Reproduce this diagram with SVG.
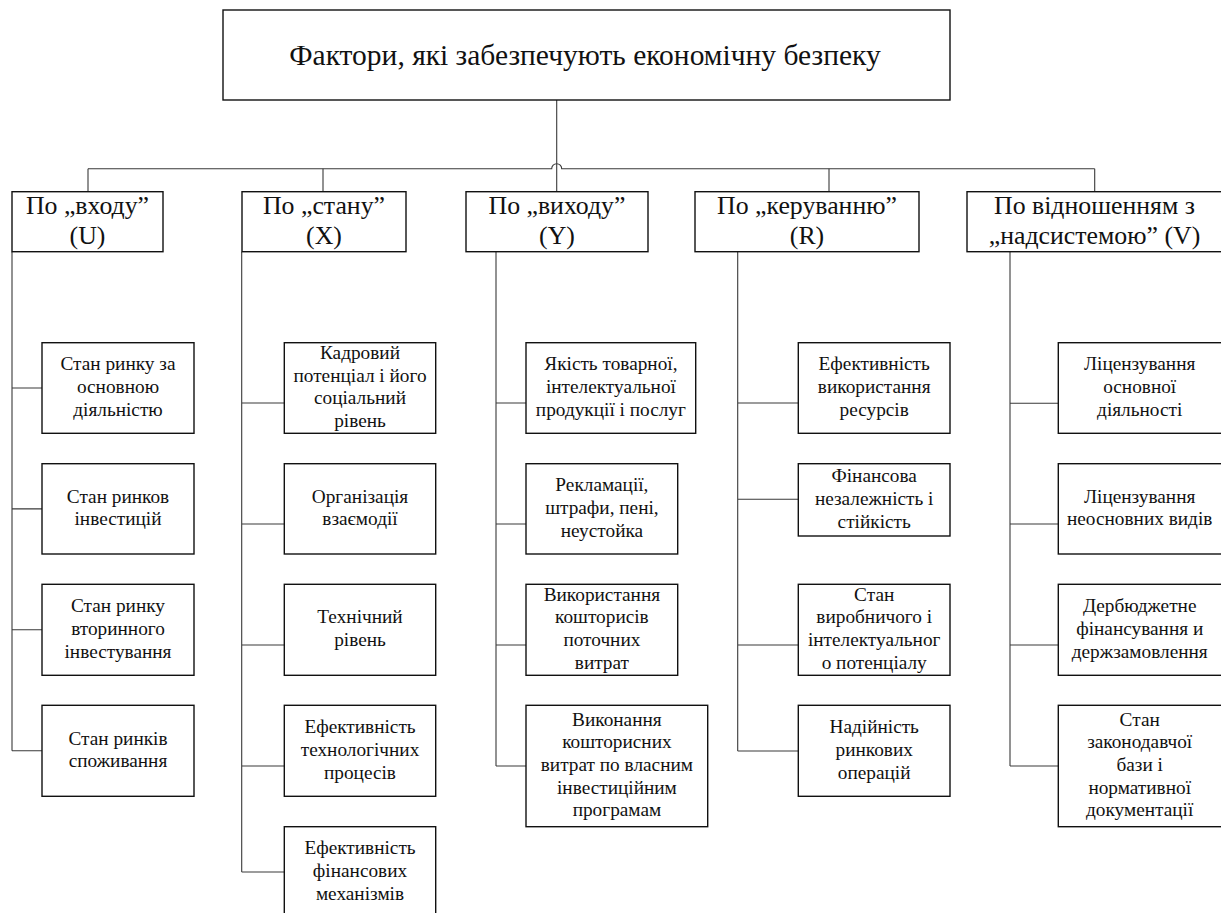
<svg xmlns="http://www.w3.org/2000/svg" width="1221" height="913" viewBox="0 0 1221 913">
<style>
  .box { fill: #ffffff; stroke: #111111; stroke-width: 1.4; }
  .wire { fill: none; stroke: #3a3a3a; stroke-width: 1.1; }
  text { font-family: "Liberation Serif", "Times New Roman", serif; fill: #111111; text-anchor: middle; }
  .title { font-size: 29.5px; }
  .hdr { font-size: 25.8px; }
  .t { font-size: 19.3px; }
</style>
<rect x="0" y="0" width="1221" height="913" fill="#ffffff"/>

<g id="connectors">
  <path class="wire" d="M556.7,100 V191.7"/>
  <path class="wire" d="M88,168.7 H551.7 A5,5 0 0 1 561.7,168.7 H1094.7"/>
  <path class="wire" d="M88,168.7 V191.7 M323,168.7 V191.7 M829,168.7 V191.7 M1094.7,168.7 V191.7"/>
  <path class="wire" d="M12,251.7 V750.8 M12,388 H42 M12,508.85 H42 M12,629.8 H42 M12,750.8 H42"/>
  <path class="wire" d="M241.7,251.7 V872 M241.7,403 H284.3 M241.7,524 H284.3 M241.7,645 H284.3 M241.7,766 H284.3 M241.7,872 H284.3"/>
  <path class="wire" d="M496,251.7 V766 M496,403 H526 M496,524 H526 M496,645 H526 M496,766 H526"/>
  <path class="wire" d="M737.7,251.7 V751 M737.7,403 H798.3 M737.7,499.3 H798.3 M737.7,645 H798.3 M737.7,751 H798.3"/>
  <path class="wire" d="M1010,251.7 V766 M1010,403.3 H1058.3 M1010,524 H1058.3 M1010,645 H1058.3 M1010,766 H1058.3"/>
</g>

<g id="root">
  <rect class="box" x="223" y="10" width="727" height="90"/>
  <text class="title" x="585" y="64.5">Фактори, які забезпечують економічну безпеку</text>
</g>

<g id="hdr-u">
  <rect class="box" x="12" y="191.7" width="151" height="60"/>
  <text class="hdr" x="87.5" y="214">По „входу”</text>
  <text class="hdr" x="87.5" y="244">(U)</text>
</g>
<g id="hdr-x">
  <rect class="box" x="242" y="191.7" width="164" height="60"/>
  <text class="hdr" x="324" y="214">По „стану”</text>
  <text class="hdr" x="324" y="244">(X)</text>
</g>
<g id="hdr-y">
  <rect class="box" x="466" y="191.7" width="182" height="60"/>
  <text class="hdr" x="557" y="214">По „виходу”</text>
  <text class="hdr" x="557" y="244">(Y)</text>
</g>
<g id="hdr-r">
  <rect class="box" x="695" y="191.7" width="224" height="60"/>
  <text class="hdr" x="807" y="214">По „керуванню”</text>
  <text class="hdr" x="807" y="244">(R)</text>
</g>
<g id="hdr-v">
  <rect class="box" x="967" y="191.7" width="255" height="60"/>
  <text class="hdr" x="1094.5" y="214">По відношенням з</text>
  <text class="hdr" x="1094.5" y="244">„надсистемою” (V)</text>
</g>

<g id="u1">
  <rect class="box" x="42" y="342.7" width="152" height="90.6"/>
  <text class="t"><tspan x="118" y="370.3">Стан ринку за</tspan><tspan x="118" y="393">основною</tspan><tspan x="118" y="415.7">діяльністю</tspan></text>
</g>
<g id="u2">
  <rect class="box" x="42" y="463.7" width="152" height="90.3"/>
  <text class="t"><tspan x="118" y="502.5">Стан ринков</tspan><tspan x="118" y="525.2">інвестицій</tspan></text>
</g>
<g id="u3">
  <rect class="box" x="42" y="584.3" width="152" height="91"/>
  <text class="t"><tspan x="118" y="612.1">Стан ринку</tspan><tspan x="118" y="634.8">вторинного</tspan><tspan x="118" y="657.5">інвестування</tspan></text>
</g>
<g id="u4">
  <rect class="box" x="42" y="705.3" width="152" height="91"/>
  <text class="t"><tspan x="118" y="744.5">Стан ринків</tspan><tspan x="118" y="767.2">споживання</tspan></text>
</g>

<g id="x1">
  <rect class="box" x="284.3" y="342.7" width="151.4" height="90.6"/>
  <text class="t"><tspan x="360" y="358.9">Кадровий</tspan><tspan x="360" y="381.6">потенціал і його</tspan><tspan x="360" y="404.3">соціальний</tspan><tspan x="360" y="427">рівень</tspan></text>
</g>
<g id="x2">
  <rect class="box" x="284.3" y="463.7" width="151.4" height="90.3"/>
  <text class="t"><tspan x="360" y="502.5">Організація</tspan><tspan x="360" y="525.2">взаємодії</tspan></text>
</g>
<g id="x3">
  <rect class="box" x="284.3" y="584.3" width="151.4" height="91"/>
  <text class="t"><tspan x="360" y="623.4">Технічний</tspan><tspan x="360" y="646.1">рівень</tspan></text>
</g>
<g id="x4">
  <rect class="box" x="284.3" y="705.3" width="151.4" height="91"/>
  <text class="t"><tspan x="360" y="733.1">Ефективність</tspan><tspan x="360" y="755.8">технологічних</tspan><tspan x="360" y="778.5">процесів</tspan></text>
</g>
<g id="x5">
  <rect class="box" x="284.3" y="826.7" width="151.4" height="91"/>
  <text class="t"><tspan x="360" y="854.2">Ефективність</tspan><tspan x="360" y="876.9">фінансових</tspan><tspan x="360" y="899.6">механізмів</tspan></text>
</g>

<g id="y1">
  <rect class="box" x="526" y="342.7" width="169.7" height="90.6"/>
  <text class="t"><tspan x="610.9" y="370.3">Якість товарної,</tspan><tspan x="610.9" y="393">інтелектуальної</tspan><tspan x="610.9" y="415.7">продукції і послуг</tspan></text>
</g>
<g id="y2">
  <rect class="box" x="526" y="463.7" width="151.7" height="90.3"/>
  <text class="t"><tspan x="601.9" y="491.2">Рекламації,</tspan><tspan x="601.9" y="513.9">штрафи, пені,</tspan><tspan x="601.9" y="536.6">неустойка</tspan></text>
</g>
<g id="y3">
  <rect class="box" x="526" y="584.3" width="151.7" height="91"/>
  <text class="t"><tspan x="601.9" y="600.7">Використання</tspan><tspan x="601.9" y="623.4">кошторисів</tspan><tspan x="601.9" y="646.1">поточних</tspan><tspan x="601.9" y="668.8">витрат</tspan></text>
</g>
<g id="y4">
  <rect class="box" x="526" y="705.3" width="181.7" height="121.4"/>
  <text class="t"><tspan x="616.9" y="725.6">Виконання</tspan><tspan x="616.9" y="748.3">кошторисних</tspan><tspan x="616.9" y="771">витрат по власним</tspan><tspan x="616.9" y="793.7">інвестиційним</tspan><tspan x="616.9" y="816.4">програмам</tspan></text>
</g>

<g id="r1">
  <rect class="box" x="798.3" y="342.7" width="151.7" height="90.6"/>
  <text class="t"><tspan x="874.2" y="370.3">Ефективність</tspan><tspan x="874.2" y="393">використання</tspan><tspan x="874.2" y="415.7">ресурсів</tspan></text>
</g>
<g id="r2">
  <rect class="box" x="798.3" y="463.7" width="151.7" height="72.3"/>
  <text class="t"><tspan x="874.2" y="482.2">Фінансова</tspan><tspan x="874.2" y="504.9">незалежність і</tspan><tspan x="874.2" y="527.6">стійкість</tspan></text>
</g>
<g id="r3">
  <rect class="box" x="798.3" y="584.3" width="151.7" height="91"/>
  <text class="t"><tspan x="874.2" y="600.7">Стан</tspan><tspan x="874.2" y="623.4">виробничого і</tspan><tspan x="874.2" y="646.1">інтелектуальног</tspan><tspan x="874.2" y="668.8">о потенціалу</tspan></text>
</g>
<g id="r4">
  <rect class="box" x="798.3" y="705.3" width="151.7" height="91"/>
  <text class="t"><tspan x="874.2" y="733.1">Надійність</tspan><tspan x="874.2" y="755.8">ринкових</tspan><tspan x="874.2" y="778.5">операцій</tspan></text>
</g>

<g id="v1">
  <rect class="box" x="1058.3" y="342.7" width="163.7" height="90.6"/>
  <text class="t"><tspan x="1139.7" y="370.3">Ліцензування</tspan><tspan x="1139.7" y="393">основної</tspan><tspan x="1139.7" y="415.7">діяльності</tspan></text>
</g>
<g id="v2">
  <rect class="box" x="1058.3" y="463.7" width="163.7" height="90.3"/>
  <text class="t"><tspan x="1139.7" y="502.5">Ліцензування</tspan><tspan x="1139.7" y="525.2">неосновних видів</tspan></text>
</g>
<g id="v3">
  <rect class="box" x="1058.3" y="584.3" width="163.7" height="91"/>
  <text class="t"><tspan x="1139.7" y="612.1">Дербюджетне</tspan><tspan x="1139.7" y="634.8">фінансування и</tspan><tspan x="1139.7" y="657.5">держзамовлення</tspan></text>
</g>
<g id="v4">
  <rect class="box" x="1058.3" y="705.3" width="163.7" height="121.4"/>
  <text class="t"><tspan x="1139.7" y="725.6">Стан</tspan><tspan x="1139.7" y="748.3">законодавчої</tspan><tspan x="1139.7" y="771">бази і</tspan><tspan x="1139.7" y="793.7">нормативної</tspan><tspan x="1139.7" y="816.4">документації</tspan></text>
</g>
</svg>
